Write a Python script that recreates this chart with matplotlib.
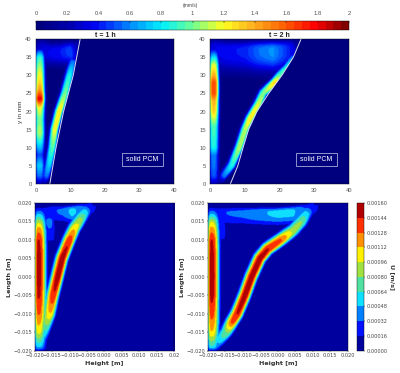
import numpy as np
import matplotlib
matplotlib.use("Agg")
import matplotlib.pyplot as plt
from matplotlib.cm import ScalarMappable
from matplotlib.colors import BoundaryNorm, LinearSegmentedColormap, ListedColormap, Normalize
from matplotlib.patches import Rectangle

# top row, velocity in mm/s, positions in mm
# wall jet
wall1_y = [0.5, 2, 5, 8, 10, 14, 18, 21, 23.5, 26, 28, 32, 35, 37, 38]
wall1_v = [0.3, 0.55, 0.75, 0.5, 0.7, 1.1, 1.0, 1.2, 1.85, 1.45, 1.3, 1.1, 0.9, 0.45, 0.0]
wall2_y = [0.5, 2, 4, 8, 10, 13, 16, 20, 23, 25, 28, 30, 33, 35, 37, 38]
wall2_v = [0.3, 0.5, 0.55, 0.6, 0.85, 0.9, 0.95, 1.3, 1.4, 1.65, 1.65, 1.4, 1.15, 0.8, 0.4, 0.0]
# jet along the melting front
jet1_x = [2.2, 3.0, 3.8, 4.8, 5.5, 6.8, 8.5, 9.8, 10.8, 11.2]
jet1_y = [0.5, 2, 5, 10, 15, 20, 25, 30, 34, 35.5]
jet1_v = [0.25, 0.55, 0.75, 0.95, 1.2, 1.25, 1.0, 0.85, 0.55, 0.0]
jet2_x = [3.0, 3.9, 6.3, 8.5, 10.2, 11.6, 14.0, 15.4, 18.8, 20.3, 22.4, 24.2, 24.8]
jet2_y = [1, 2, 5, 10, 15, 18, 22, 25, 28, 30, 32, 35, 36]
jet2_v = [0.25, 0.55, 0.85, 1.1, 1.1, 1.25, 1.15, 1.0, 1.3, 0.95, 0.9, 0.55, 0.1]
# recirculation under the top wall
top1_x = [1.5, 4, 7, 10, 11.8]
top1_y = [37.5, 36.5, 36.5, 36.8, 37.2]
top1_v = [0.3, 0.36, 0.4, 0.5, 0.25]
top2_x = [1.5, 5, 10, 14, 18, 21, 24, 25.5]
top2_y = [37.5, 37, 37, 37, 37, 37.2, 37.5, 38]
top2_v = [0.35, 0.38, 0.42, 0.55, 0.62, 0.5, 0.35, 0.1]
# solid/liquid interface
front1_x = [4.0, 5.8, 8.0, 10.8, 11.8, 12.8]
front1_y = [0, 10, 20, 30, 35, 40]
front2_x = [5.85, 8.0, 9.5, 11.1, 13.5, 16.9, 20.7, 24.0, 26.2]
front2_y = [0, 5, 10, 15, 20, 25, 30, 35, 40]

# bottom row, simulation, U in m/s, positions in m
sim_wall_L = [-0.02, -0.019, -0.015, -0.01, -0.005, 0.0, 0.005, 0.01, 0.013, 0.015, 0.017, 0.0185, 0.0195]
sim_wall1_U = [0.0002, 0.0005, 0.0010, 0.0013, 0.00147, 0.00152, 0.00152, 0.00145, 0.0012, 0.0009, 0.0005, 0.0002, 0.0]
sim_wall2_U = [0.0002, 0.0006, 0.0011, 0.00135, 0.0015, 0.00154, 0.00152, 0.00145, 0.0012, 0.00095, 0.0005, 0.0002, 0.0]
sim_jet1_x = [-0.019, -0.0175, -0.0158, -0.0148, -0.0135, -0.0122, -0.0101, -0.0087, -0.0067, -0.0053, -0.0043]
sim_jet1_L = [-0.019, -0.015, -0.01, -0.005, 0.0, 0.005, 0.01, 0.013, 0.016, 0.018, 0.019]
sim_jet1_U = [0.0003, 0.0006, 0.0011, 0.00142, 0.00152, 0.00152, 0.0014, 0.0011, 0.0008, 0.0005, 0.0002]
sim_jet2_x = [-0.018, -0.0147, -0.0132, -0.0116, -0.0094, -0.0075, -0.0051, -0.0029, 0.0009, 0.0044, 0.0068, 0.0085, 0.0097]
sim_jet2_L = [-0.0185, -0.015, -0.0125, -0.01, -0.005, 0.0, 0.005, 0.0075, 0.01, 0.0125, 0.015, 0.0175, 0.019]
sim_jet2_U = [0.0004, 0.0008, 0.0013, 0.00145, 0.00152, 0.00152, 0.00152, 0.00145, 0.0013, 0.0009, 0.0008, 0.0005, 0.0002]
sim_top1_x = [-0.018, -0.015, -0.012, -0.0095, -0.007, -0.0045]
sim_top1_L = [0.0175, 0.018, 0.018, 0.018, 0.0185, 0.019]
sim_top1_U = [0.0003, 0.0003, 0.00035, 0.00055, 0.0004, 0.0002]
sim_top2_x = [-0.018, -0.01, -0.005, 0.0, 0.004, 0.008, 0.0095]
sim_top2_L = [0.0175, 0.0175, 0.0175, 0.0175, 0.0178, 0.0185, 0.019]
sim_top2_U = [0.0003, 0.00035, 0.00045, 0.00053, 0.00053, 0.0003, 0.0002]
sim_tail1_x = [-0.016, -0.0155, -0.0155]
sim_tail1_L = [0.015, 0.010, 0.009]
sim_tail1_U = [0.0004, 0.00018, 0.0]
sim_tail2_x = [-0.0165, -0.016, -0.016]
sim_tail2_L = [0.0145, 0.0105, 0.009]
sim_tail2_U = [0.0003, 0.00018, 0.0]

top_xticks = [0, 10, 20, 30, 40]
top_yticks = [0, 5, 10, 15, 20, 25, 30, 35, 40]
speed_ticks = [0, 0.2, 0.4, 0.6, 0.8, 1, 1.2, 1.4, 1.6, 1.8, 2]
sim_ticks = [-0.02, -0.015, -0.01, -0.005, 0.0, 0.005, 0.01, 0.015, 0.02]
sim_levels = [0, 0.00016, 0.00032, 0.00048, 0.00064, 0.0008, 0.00096, 0.00112, 0.00128, 0.00144, 0.0016]

speed_stops = [(0, "#00007f"), (0.1, "#0000b0"), (0.175, "#0000f0"), (0.25, "#0050ff"), (0.3, "#0090ff"),
               (0.4, "#00f0ff"), (0.5, "#70ff90"), (0.6, "#ffff20"), (0.7, "#ffb020"), (0.8, "#ff6000"),
               (0.9, "#ff0000"), (1, "#800000")]
sim_colors = ["#00009f", "#0010ff", "#0080ff", "#10e0ff", "#50e0a0", "#a0e040", "#fff000", "#ff9000", "#ff3000",
              "#b00000"]

speed_cmap = LinearSegmentedColormap.from_list("speed", speed_stops, N=40)
sim_cmap = ListedColormap(sim_colors)
sim_norm = BoundaryNorm(sim_levels, 10)


def ridge(X, Y, xs, ys, vs, s_left, s_right):
    # spreads a value table sideways from a line through the picture
    t = np.linspace(0, len(xs) - 1, 300)
    idx = np.arange(len(xs))
    cx = np.interp(t, idx, xs)
    cy = np.interp(t, idx, ys)
    cv = np.interp(t, idx, vs)
    tx = np.gradient(cx)
    ty = np.gradient(cy)
    d2 = (X[..., None] - cx) ** 2 + (Y[..., None] - cy) ** 2
    near = d2.argmin(axis=-1)
    d = np.sqrt(d2.min(axis=-1))
    left = tx[near] * (Y - cy[near]) - ty[near] * (X - cx[near]) > 0
    s = np.where(left, s_left, s_right)
    return cv[near] * np.exp(-(d / s) ** 3)


W, H = 400, 373
fig = plt.figure(figsize=(W / 100, H / 100), dpi=100)


def box(x0, y0, x1, y1):
    return fig.add_axes([x0 / W, 1 - y1 / H, (x1 - x0) / W, (y1 - y0) / H])


# top row
xg, yg = np.meshgrid(np.linspace(0, 40, 240), np.linspace(0, 40, 240))
top_rows = [
    (36, 174, "t = 1 h", wall1_y, wall1_v, jet1_x, jet1_y, jet1_v, top1_x, top1_y, top1_v,
     front1_x, front1_y, 3.7, 122, 163),
    (210, 349, "t = 2 h", wall2_y, wall2_v, jet2_x, jet2_y, jet2_v, top2_x, top2_y, top2_v,
     front2_x, front2_y, 6.0, 296, 337),
]
for x0, x1, title, wy, wv, jx, jy, jv, tx, ty, tv, fx, fy, sdown, bx0, bx1 in top_rows:
    ax = box(x0, 39, x1, 184)
    z = ridge(xg, yg, [1.0] * len(wy), wy, wv, 1.5, 1.5)
    z = np.maximum(z, ridge(xg, yg, jx, jy, jv, 1.5, 1.0))
    z = np.maximum(z, ridge(xg, yg, tx, ty, tv, 2.5, sdown))
    z[xg > np.interp(yg, fy, fx)] = 0
    ax.imshow(z, origin="lower", extent=(0, 40, 0, 40), aspect="auto", cmap=speed_cmap, vmin=0, vmax=2,
              interpolation="hanning", interpolation_stage="rgba")
    ax.plot(fx, fy, color="#d8dcf0", lw=0.7)
    ax.set_xlim(0, 40)
    ax.set_ylim(0, 40)
    ax.set_xticks(top_xticks)
    ax.set_yticks(top_yticks)
    ax.tick_params(labelsize=4.2, length=0, pad=3, labelcolor="#555555", labelfontfamily="Liberation Sans")
    for s in ax.spines.values():
        s.set_linewidth(0.3)
    ax.set_title(title, fontsize=5, fontweight="bold", family="Liberation Sans", pad=1.5, color="#222222")
    # label box is placed in pixels of the page
    fig.add_artist(Rectangle((bx0 / W, 1 - 166 / H), (bx1 - bx0) / W, 13 / H, fill=False,
                             ec="#c8cce8", lw=0.5, transform=fig.transFigure, zorder=5))
    fig.text((bx0 + bx1) / 2 / W, 1 - 159.5 / H, "solid PCM", color="white", fontsize=5,
             family="Liberation Sans", ha="center", va="center", zorder=6)
    if x0 == 36:
        ax.set_ylabel("y in mm", fontsize=4.6, family="Liberation Sans", labelpad=1.5, color="#333333")

cax = box(36, 21, 349, 30)
cb = fig.colorbar(ScalarMappable(Normalize(0, 2), speed_cmap), cax=cax, orientation="horizontal")
cb.set_ticks(speed_ticks)
cb.set_ticklabels([str(v) for v in speed_ticks])
cax.xaxis.set_ticks_position("top")
cax.tick_params(labelsize=4.2, direction="in", length=1.5, width=0.3, pad=3.5, labelcolor="#555555",
                labelfontfamily="Liberation Sans")
cb.outline.set_linewidth(0.3)
fig.text(190 / W, 1 - 6 / H, "(mm/s)", fontsize=3.6, family="Liberation Sans", ha="center", va="center",
         color="#444444")

# bottom row
xs, ys = np.meshgrid(np.linspace(-0.02, 0.02, 300), np.linspace(-0.02, 0.02, 300))
bottom_rows = [
    (34.7, 174, sim_wall1_U, sim_jet1_x, sim_jet1_L, sim_jet1_U, sim_top1_x, sim_top1_L, sim_top1_U,
     sim_tail1_x, sim_tail1_L, sim_tail1_U, 0.003, "0.02"),
    (208, 347.7, sim_wall2_U, sim_jet2_x, sim_jet2_L, sim_jet2_U, sim_top2_x, sim_top2_L, sim_top2_U,
     sim_tail2_x, sim_tail2_L, sim_tail2_U, 0.0032, "0.020"),
]
for x0, x1, wu, jx, jl, ju, tx, tl, tu, tail_x, tail_l, tail_u, sdown, last in bottom_rows:
    ax = box(x0, 203, x1, 350.7)
    z = ridge(xs, ys, [-0.0191] * len(sim_wall_L), sim_wall_L, wu, 0.0011, 0.0021)
    z = np.maximum(z, ridge(xs, ys, jx, jl, ju, 0.0019, 0.0015))
    z = np.maximum(z, ridge(xs, ys, tx, tl, tu, 0.0013, sdown))
    z = np.maximum(z, ridge(xs, ys, tail_x, tail_l, tail_u, 0.0015, 0.0015))
    ax.imshow(z, origin="lower", extent=(-0.02, 0.02, -0.02, 0.02), aspect="auto", cmap=sim_cmap, norm=sim_norm,
              interpolation="hanning", interpolation_stage="rgba")
    ax.set_xlim(-0.02, 0.02)
    ax.set_ylim(-0.02, 0.02)
    ax.set_xticks(sim_ticks)
    ax.set_yticks(sim_ticks)
    ax.set_xticklabels([f"{v:.3f}".replace("-", "\u2212") for v in sim_ticks[:-1]] + [last])
    ax.set_yticklabels([f"{v:.3f}".replace("-", "\u2212") for v in sim_ticks])
    ax.tick_params(labelsize=3.6, length=1, width=0.3, pad=1, labelcolor="#444444")
    for s in ax.spines.values():
        s.set_linewidth(0.3)
    ax.set_xlabel("Height [m]", fontsize=4.6, fontweight="bold", labelpad=1.5, color="#333333")
    ax.set_ylabel("Length [m]", fontsize=4.6, fontweight="bold", labelpad=1, color="#333333")

cax2 = box(357, 203, 364, 350.7)
cb2 = fig.colorbar(ScalarMappable(sim_norm, sim_cmap), cax=cax2)
cb2.set_ticks(sim_levels)
cb2.set_ticklabels([f"{v:.5f}" for v in sim_levels])
cb2.ax.minorticks_off()
cax2.tick_params(labelsize=3.6, length=1, width=0.3, pad=1, labelcolor="#444444")
cb2.outline.set_linewidth(0.3)
cb2.set_label("U [m/s]", fontsize=4.6, fontweight="bold", rotation=270, labelpad=5, color="#333333")

fig.savefig("out.png", dpi=100)
